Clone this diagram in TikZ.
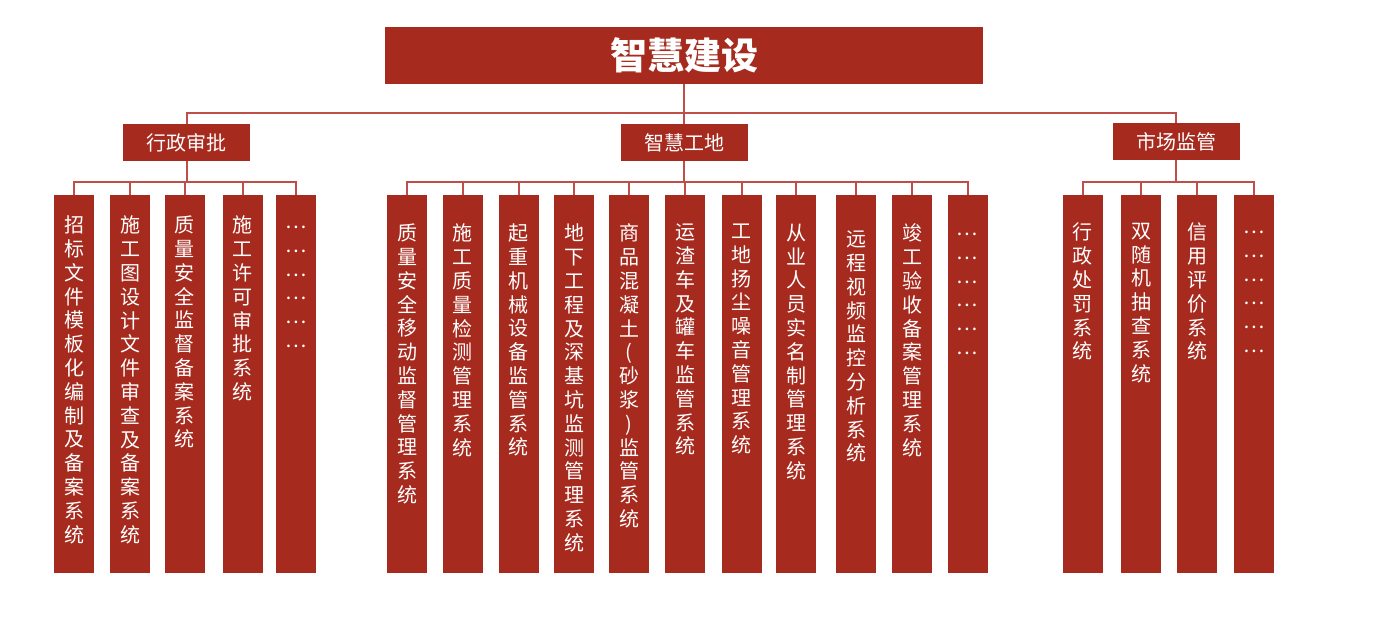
\documentclass[tikz,border=0pt]{standalone}
\usepackage{fontspec}
\setmainfont{Noto Sans CJK SC}
\usepackage{xcolor}
\usepackage{tikz}
\usetikzlibrary{calc, positioning}
\definecolor{zhred}{HTML}{A62A1E}
\definecolor{zhline}{HTML}{BE4E47}

% one character per line (vertical text)
\def\vchars#1{\vcharsfirst#1\relax}
\def\vcharsfirst#1{#1\vcharsrest}
\def\vcharsrest#1{\ifx#1\relax\else\\#1\expandafter\vcharsrest\fi}
\def\vtext#1{\expandafter\vchars\expandafter{#1}}

\begin{document}
\begin{tikzpicture}[x=1pt, y=-1pt]

\useasboundingbox (0,0) rectangle (1384,626);

% Styles
\tikzset{
  topbox/.style={fill=zhred, minimum width=598, minimum height=57, inner sep=0, text=white, font=\fontsize{37}{37}\selectfont\bfseries},
  catbox/.style={fill=zhred, minimum width=127, minimum height=37, inner sep=0, text=white, font=\fontsize{20}{20}\selectfont},
  leafbox/.style={fill=zhred, minimum width=40, minimum height=378, inner sep=0},
  leaftext/.style={anchor=north, align=center, inner sep=0, text=white, font=\fontsize{20}{23.8}\selectfont},
  link/.style={draw=zhline, line width=2}
}

% Top box
\node[topbox] (top) at (684,55.5) {智慧建设};

% Category boxes
\node[catbox] (xz) at (186.5,142.5) {行政审批};
\node[catbox] (zg) at (684,142.5) {智慧工地};
\node[catbox] (sc) at (1176,141.5) {市场监管};

% Bus lines
\coordinate (bus0) at (0,113);
\coordinate (bus1) at (0,182);

\foreach \c in {xz, zg, sc} {
    \draw[link] (top.south) -- (top.south |- bus0) -| (\c.north);
}

% -- Leaves: 行政审批 --
\foreach \x/\dy/\t [count=\i] in {74/21/招标文件模板化编制及备案系统, 130/21/施工图设计文件审查及备案系统, 184.5/21/质量安全监督备案系统, 242.5/21/施工许可审批系统, 296/31/………………} {
    \node[leafbox] (xz\i) at (\x,384) {};
    \node[leaftext] (xz\i t) at ($(xz\i.north)+(0,\dy)$) {\vtext{\t}};
    \draw[link] (xz.south) -- (xz.south |- bus1) -| (xz\i.north);
}

% -- Leaves: 智慧工地 --
\foreach \x/\dy/\t [count=\i] in {407/29/质量安全移动监督管理系统, 462.5/29/施工质量检测管理系统, 518.5/29/起重机械设备监管系统, 574/29/地下工程及深基坑监测管理系统, 629/29/商品混凝土(砂浆)监管系统, 685/29/运渣车及罐车监管系统, 741.5/29/工地扬尘噪音管理系统, 796/29/从业人员实名制管理系统, 856/36/远程视频监控分析系统, 912/29/竣工验收备案管理系统, 967.5/38/………………} {
    \node[leafbox] (zg\i) at (\x,384) {};
    \node[leaftext] (zg\i t) at ($(zg\i.north)+(0,\dy)$) {\vtext{\t}};
    \draw[link] (zg.south) -- (zg.south |- bus1) -| (zg\i.north);
}

% -- Leaves: 市场监管 --
\foreach \x/\dy/\t [count=\i] in {1082.5/28/行政处罚系统, 1141/28/双随机抽查系统, 1197/28/信用评价系统, 1254/36/………………} {
    \node[leafbox] (sc\i) at (\x,384) {};
    \node[leaftext] (sc\i t) at ($(sc\i.north)+(0,\dy)$) {\vtext{\t}};
    \draw[link] (sc.south) -- (sc.south |- bus1) -| (sc\i.north);
}

\end{tikzpicture}
\end{document}
